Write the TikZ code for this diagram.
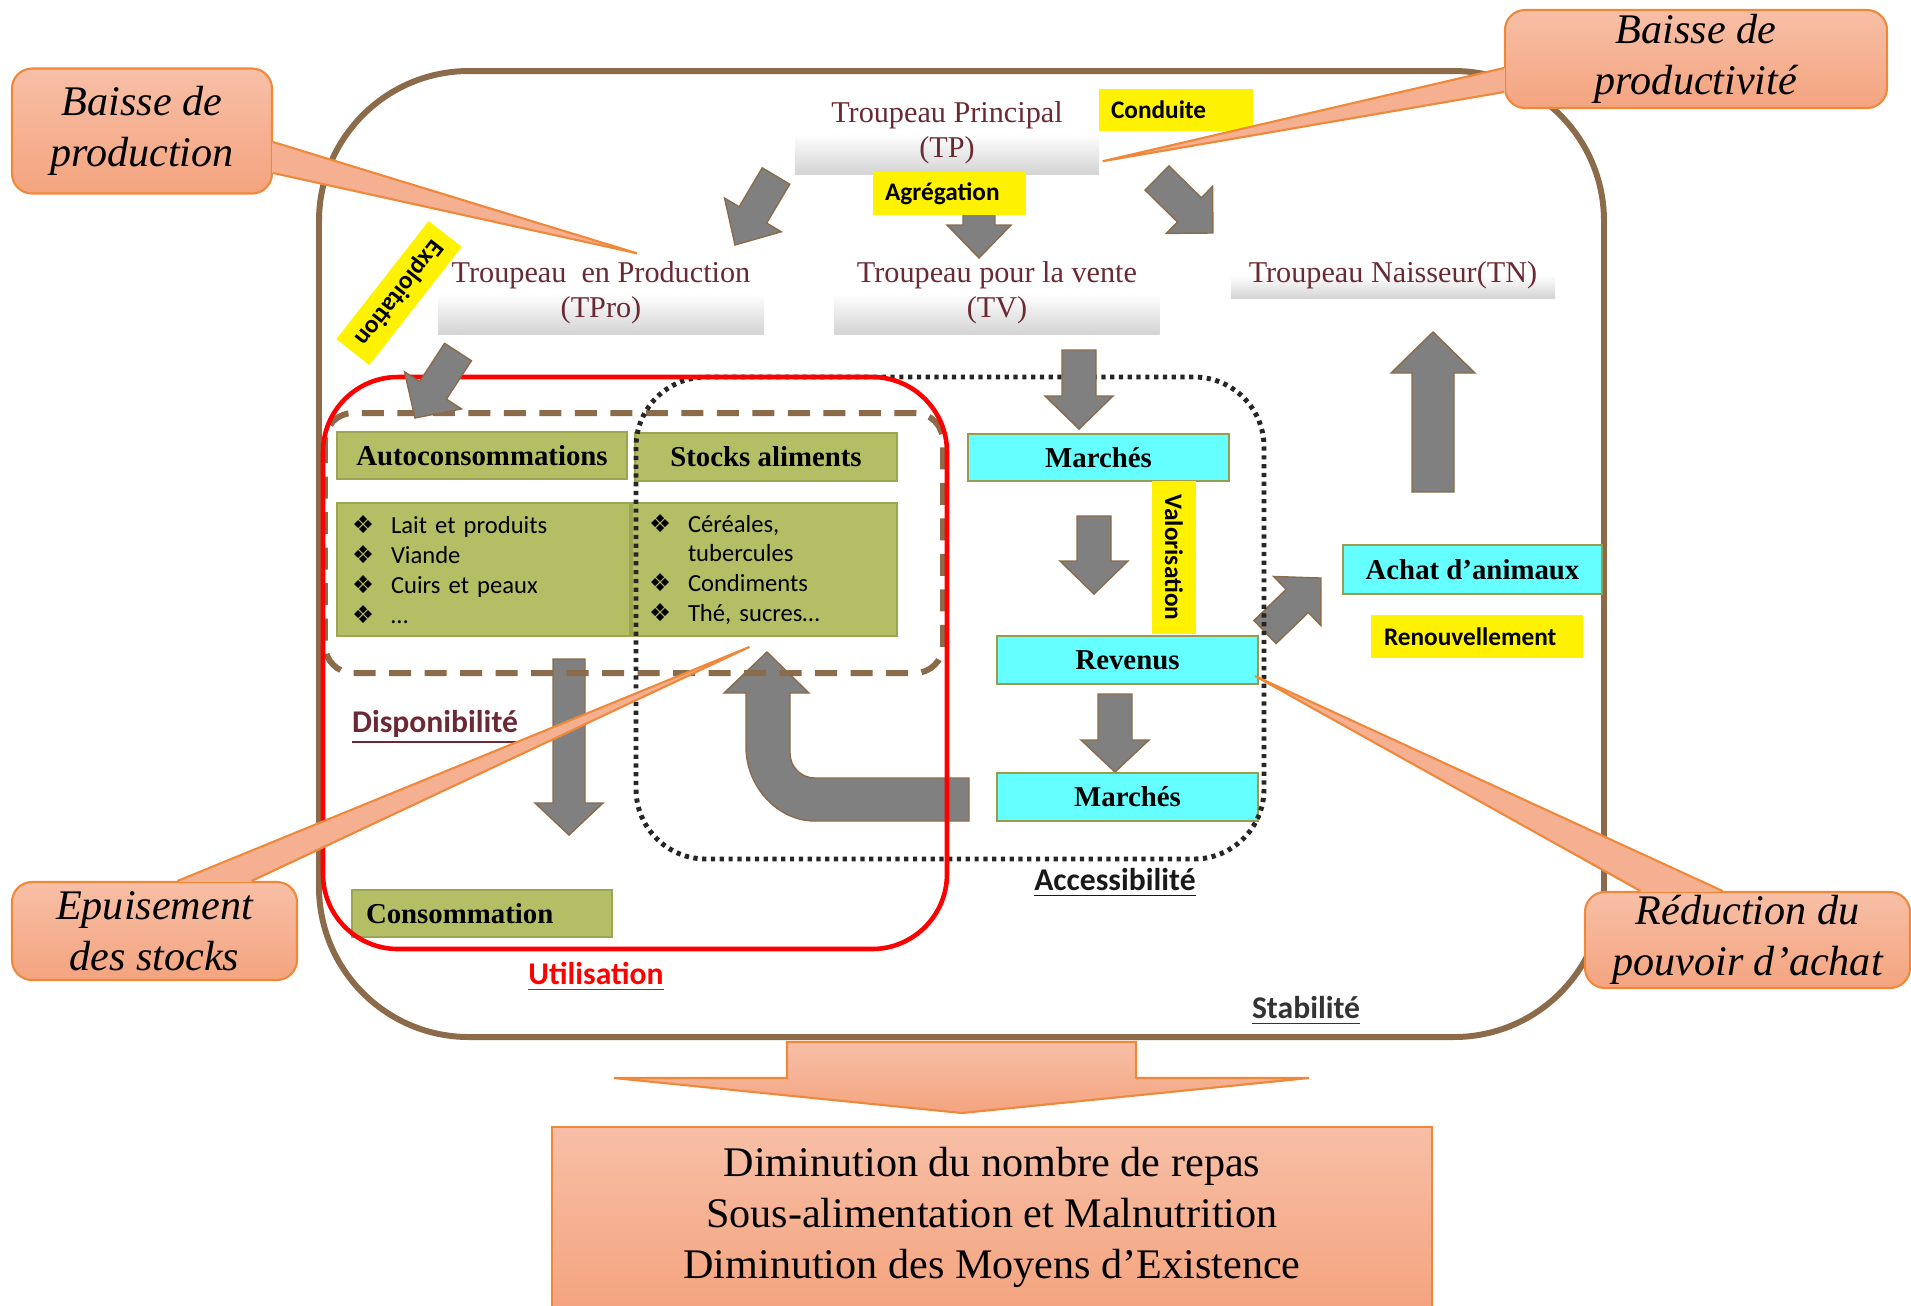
\documentclass[tikz,border=0pt]{standalone}
\usepackage{fontspec}
\setmainfont{Liberation Serif}
\setsansfont{Carlito}
\newfontfamily\bulletfont{DejaVu Sans}
\usetikzlibrary{calc,positioning}

\definecolor{framebrown}{HTML}{8B6B4A}
\definecolor{herdtext}{HTML}{6B2A33}
\definecolor{dispo}{HTML}{6B2835}
\definecolor{greenfill}{HTML}{B4BE64}
\definecolor{greenline}{HTML}{9CA552}
\definecolor{aqua}{HTML}{66FFFF}
\definecolor{aqualine}{HTML}{9C9A4E}
\definecolor{salmontop}{HTML}{F7BFA6}
\definecolor{salmonbot}{HTML}{F4A47F}
\definecolor{salmonmid}{HTML}{F5B092}
\definecolor{salmonline}{HTML}{F0883A}
\definecolor{arrowgray}{HTML}{808080}

\newcommand\pxu{0.2845pt}
\newcommand\lstbullet{\makebox[2.9mm][l]{\hspace*{-1mm}\bulletfont ❖}}

% gray block arrow: from, to, half shaft, half head, head length (px)
\newcommand\fatarrow[5]{%
  \draw[fatarrow] let \p1=(#1), \p2=(#2),
      \n1={veclen(\x2-\x1,\y2-\y1)}, \n2={atan2(\y2-\y1,\x2-\x1)},
      \n3={\n1-#5*\pxu}, \n4={#3*\pxu}, \n5={#4*\pxu} in
    {[shift={(\p1)},rotate=\n2] (0pt,-\n4) -- (\n3,-\n4) -- (\n3,-\n5) -- (\n1,0pt)
      -- (\n3,\n5) -- (\n3,\n4) -- (0pt,\n4) -- cycle};%
}

\begin{document}
\begin{tikzpicture}[x=0.1mm, y=-0.1mm,
    herdbox/.style={top color=white, bottom color=black!17, middle color=white,
      text=herdtext, align=center, inner sep=0pt, font=\fontsize{8.6}{10}\selectfont},
    greenbox/.style={fill=greenfill, draw=greenline, line width=0.5pt, inner sep=0pt},
    cyanbox/.style={fill=aqua, draw=aqualine, line width=0.6pt, inner sep=0pt,
      font=\bfseries\fontsize{8.2}{10}\selectfont},
    yellowtag/.style={fill=yellow, inner sep=0pt, font=\sffamily\bfseries\fontsize{7.2}{8.5}\selectfont},
    zonelabel/.style={font=\sffamily\bfseries\fontsize{9}{11}\selectfont},
    calloutbox/.style={draw=salmonline, line width=0.6pt, rounded corners=2mm,
      top color=salmontop, bottom color=salmonbot, inner sep=0pt, align=center,
      font=\itshape\fontsize{12}{14.5}\selectfont},
    calloutpointer/.style={fill=salmonmid},
    fatarrow/.style={fill=arrowgray, draw=framebrown, line width=0.4pt, line join=miter}]

\useasboundingbox (0,0) rectangle (1911,1305);

% stability frame
\draw[framebrown, line width=1.7pt, rounded corners=15mm] (319,71) rectangle (1604,1037);

% herds
\node[herdbox, minimum width=30.4mm, minimum height=8.3mm] (TP) at (947,133) {Troupeau Principal\\(TP)};
\node[herdbox, minimum width=32.6mm, minimum height=8.2mm] (TPro) at (601,293) {Troupeau\enspace en Production\\(TPro)};
\node[herdbox, minimum width=32.5mm, minimum height=8.2mm] (TV) at (997,293) {Troupeau pour la vente\\(TV)};
\node[herdbox, minimum width=32.4mm, minimum height=4.7mm] (TN) at (1393,275) {Troupeau Naisseur(TN)};

% arrow ends
\coordinate (TP-1) at (776,176);        \coordinate (TPro-in) at (735,245);
\coordinate (TP-2) at (979,205);        \coordinate (TV-in) at (979,258);
\coordinate (TP-3) at (1157,178);       \coordinate (TN-in) at (1213,233);
\coordinate (TPro-out) at (458,352);    \coordinate (auto-in) at (415,418);
\coordinate (TV-out) at (1079,350);     \coordinate (marche1-in) at (1079,429);
\coordinate (marche1-out) at (1094,516);\coordinate (rev-in) at (1094,594);
\coordinate (rev-out) at (1115,694);    \coordinate (marche2-in) at (1115,772);
\coordinate (achat-out) at (1433,492);  \coordinate (TN-up) at (1433,332);
\coordinate (rev-side) at (1265,632);   \coordinate (achat-in) at (1321,578);
\coordinate (auto-out) at (569,659);    \coordinate (conso-in) at (569,835);

\fatarrow{TP-1}{TPro-in}{16}{33}{35}
\fatarrow{TP-2}{TV-in}{16}{32}{33}
\fatarrow{TP-3}{TN-in}{17}{33}{33}
\fatarrow{marche1-out}{rev-in}{17}{34}{33}
\fatarrow{rev-out}{marche2-in}{17}{34}{32}
\fatarrow{achat-out}{TN-up}{21}{42}{41}
\fatarrow{rev-side}{achat-in}{16}{34}{33}
\fatarrow{auto-out}{conso-in}{16}{34}{32}

% back to the stocks
\draw[fatarrow] (969,778) -- (815,778) .. controls (801,778) and (790,767) .. (790,753)
  -- (790,693) -- (809,693) -- (767,652) -- (724,693) -- (746,693) -- (746,747)
  .. controls (746,786) and (777,821) .. (815,821) -- (969,821) -- cycle;

% boxes
\node[greenbox, minimum width=29mm, minimum height=4.7mm,
  font=\bfseries\fontsize{8.2}{10}\selectfont] (auto) at (482,455.5) {Autoconsommations};
\node[greenbox, minimum width=26.2mm, minimum height=4.8mm,
  font=\bfseries\fontsize{8.2}{10}\selectfont] (stocks) at (766,457) {Stocks aliments};
\node[greenbox, minimum height=13.3mm, text width=24.3mm, inner xsep=2.5mm, align=left,
  font=\sffamily\fontsize{7}{8.5}\selectfont] (autolist) at (483.5,569.5)
  {\lstbullet Lait et produits\\\lstbullet Viande\\\lstbullet Cuirs et peaux\\\lstbullet …};
\node[greenbox, minimum height=13.3mm, text width=21.1mm, inner xsep=2.7mm, align=left,
  font=\sffamily\fontsize{7}{8.5}\selectfont] (stocklist) at (764.5,569.5)
  {\lstbullet Céréales,\\\hspace*{2.9mm}tubercules\\\lstbullet Condiments\\\lstbullet Thé, sucres…};
\node[greenbox, minimum height=4.7mm, text width=23.2mm, inner xsep=1.4mm, align=left,
  font=\bfseries\fontsize{8.2}{10}\selectfont] (conso) at (482,913.5) {Consommation};

\node[cyanbox, minimum width=26.1mm, minimum height=4.7mm] (marche1) at (1098.5,457.5) {Marchés};
\node[cyanbox, minimum width=26.1mm, minimum height=4.8mm] (revenus) at (1127.5,660) {Revenus};
\node[cyanbox, minimum width=26.1mm, minimum height=4.8mm] (marche2) at (1127.5,797) {Marchés};
\node[cyanbox, minimum width=25.9mm, minimum height=4.9mm] (achat) at (1472.5,569.5) {Achat d’animaux};

% tags
\node[yellowtag, text width=13mm, inner xsep=1.2mm, minimum height=4.2mm, align=left] (conduite) at (1176,110) {Conduite};
\node[yellowtag, text width=12.9mm, inner xsep=1.2mm, minimum height=4.3mm, align=left] (agregation) at (949.5,193.5) {Agrégation};
\node[yellowtag, text width=18.6mm, inner xsep=1.3mm, minimum height=4.3mm, align=left] (renouv) at (1477,636.5) {Renouvellement};
\node[yellowtag, minimum width=15.3mm, minimum height=4.4mm, rotate=-90] (valor) at (1174,557.5) {Valorisation};
\node[yellowtag, minimum width=15mm, minimum height=4.2mm, rotate=232] (exploit) at (399,293) {Exploitation};

% zones
\draw[framebrown, line width=1.7pt, dash pattern=on 6.3pt off 3.8pt, rounded corners=2.8mm] (325,413) rectangle (943,673);
\draw[black!85, line width=1.4pt, dash pattern=on 1.2pt off 1.3pt, rounded corners=7mm] (636,377) rectangle (1264,859);
\draw[red, line width=1.3pt, rounded corners=7.5mm] (323,377) rectangle (947,949);

\fatarrow{TPro-out}{auto-in}{16}{34}{33}
\fatarrow{TV-out}{marche1-in}{17}{34}{33}

\node[zonelabel, text=dispo] (dispoz) at (435,727) {\underline{Disponibilité}};
\node[zonelabel, text=red] (util) at (596,977) {\underline{Utilisation}};
\node[zonelabel, text=black!90] (access) at (1115,883) {\underline{Accessibilité}};
\node[zonelabel, text=black!80] (stab) at (1306,1011) {\underline{Stabilité}};

% callouts
\node[calloutbox, minimum width=26mm, minimum height=12.5mm] (prod) at (142,131) {Baisse de\\production};
\fill[calloutpointer] ($(prod.east)+(-1,11)$) -- ($(TPro.north)+(36,2)$) -- ($(prod.east)+(-1,42)$) -- cycle;
\draw[salmonline, line width=0.6pt] ($(prod.east)+(0,11)$) -- ($(TPro.north)+(36,2)$) -- ($(prod.east)+(0,42)$);

\node[calloutbox, minimum width=38.2mm, minimum height=9.8mm] (productivite) at (1696,59) {Baisse de\\productivité};
\fill[calloutpointer] ($(productivite.west)+(1,9)$) -- ($(TP.south east)+(3,-14)$) -- ($(productivite.west)+(1,33)$) -- cycle;
\draw[salmonline, line width=0.6pt] ($(productivite.west)+(0,9)$) -- ($(TP.south east)+(3,-14)$) -- ($(productivite.west)+(0,33)$);

\node[calloutbox, minimum width=28.5mm, minimum height=9.8mm] (epuise) at (154.5,931) {Epuisement\\des stocks};
\fill[calloutpointer] ($(epuise.north)+(23,1)$) -- ($(stocklist.south)+(-15,10)$) -- ($(epuise.north)+(97,1)$) -- cycle;
\draw[salmonline, line width=0.6pt] ($(epuise.north)+(23,0)$) -- ($(stocklist.south)+(-15,10)$) -- ($(epuise.north)+(97,0)$);

\node[calloutbox, minimum width=32.5mm, minimum height=9.6mm] (pouvoir) at (1747.5,940) {Réduction du\\pouvoir d’achat};
\fill[calloutpointer] ($(pouvoir.north)+(-107,1)$) -- ($(revenus.east)+(-4,16)$) -- ($(pouvoir.north)+(-25,1)$) -- cycle;
\draw[salmonline, line width=0.6pt] ($(pouvoir.north)+(-107,0)$) -- ($(revenus.east)+(-4,16)$) -- ($(pouvoir.north)+(-25,0)$);

% outcome
\draw[salmonline, line width=0.6pt, top color=salmontop, bottom color=salmonbot]
  (787,1042) -- (1136,1042) -- (1136,1078) -- (1309,1078) -- (962,1113) -- (614,1078) -- (787,1078) -- cycle;
\node[draw=salmonline, line width=0.6pt, top color=salmontop, bottom color=salmonbot,
  minimum width=88mm, minimum height=18mm, align=center, font=\fontsize{12}{14.5}\selectfont] (impact) at (992,1217)
  {Diminution du nombre de repas\\Sous-alimentation et Malnutrition\\Diminution des Moyens d’Existence};

\end{tikzpicture}
\end{document}
